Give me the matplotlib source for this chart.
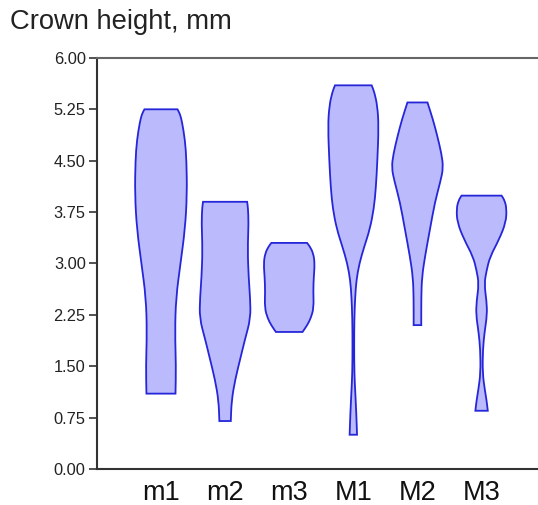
import numpy as np
import matplotlib
matplotlib.use("Agg")
import matplotlib.pyplot as plt
from matplotlib.path import Path
from matplotlib.patches import PathPatch

plt.rcParams['font.family'] = ['Liberation Sans', 'DejaVu Sans']

# groups along the x axis
groups = ['m1', 'm2', 'm3', 'M1', 'M2', 'M3']

# violin outlines: heights (mm) and half widths (px)
m1_y = [1.10, 1.50, 2.00, 2.50, 3.00, 3.50, 4.00, 4.50, 4.80, 5.07, 5.18, 5.25]
m1_w = [14.5, 15.0, 14.0, 15.0, 19.5, 24.0, 26.0, 25.5, 24.0, 21.0, 19.0, 16.5]

m2_y = [0.70, 1.00, 1.30, 1.60, 1.90, 2.20, 2.50, 2.80, 3.20, 3.60, 3.82, 3.90]
m2_w = [5.7, 6.5, 10.0, 15.0, 20.0, 25.5, 25.0, 23.5, 22.5, 23.5, 22.8, 22.0]

m3_y = [2.00, 2.10, 2.20, 2.35, 2.60, 2.80, 3.00, 3.15, 3.25, 3.30]
m3_w = [13.3, 18.0, 21.5, 24.5, 24.0, 24.5, 25.5, 24.0, 20.5, 17.8]

M1_y = [0.50, 0.80, 1.10, 1.40, 1.80, 2.20, 2.50, 2.75, 3.00, 3.25, 3.50,
        3.80, 4.10, 4.50, 5.00, 5.30, 5.50, 5.60]
M1_w = [3.7, 3.0, 2.0, 1.0, 0.8, 1.0, 1.8, 3.0, 6.0, 11.0, 16.5,
        20.5, 22.5, 24.0, 25.3, 24.0, 21.0, 18.3]

M2_y = [2.10, 2.50, 2.80, 3.10, 3.50, 3.90, 4.20, 4.40, 4.60, 4.85, 5.10, 5.35]
M2_w = [3.8, 3.8, 4.5, 7.5, 12.5, 17.5, 23.0, 25.8, 24.0, 20.0, 15.5, 10.0]

M3_y = [0.85, 1.00, 1.15, 1.40, 1.75, 2.00, 2.25, 2.45, 2.70, 2.90, 3.10,
        3.35, 3.60, 3.80, 3.92, 3.99]
M3_w = [6.2, 5.0, 3.3, 1.0, 1.3, 3.0, 5.5, 5.0, 2.7, 5.0, 8.5,
        17.5, 24.3, 25.0, 23.0, 20.0]

profiles = [(m1_y, m1_w), (m2_y, m2_w), (m3_y, m3_w),
            (M1_y, M1_w), (M2_y, M2_w), (M3_y, M3_w)]

yticks = [0.00, 0.75, 1.50, 2.25, 3.00, 3.75, 4.50, 5.25, 6.00]

px_per_unit = 64.0  # horizontal pixels per group step


def side(pts, first_code):
    # smooth side: quadratic curves through the midpoints, ends kept sharp
    mids = (pts[:-1] + pts[1:]) / 2
    verts = [pts[0], mids[0]]
    codes = [first_code, Path.LINETO]
    for k in range(1, len(pts) - 1):
        verts += [pts[k], mids[k]]
        codes += [Path.CURVE3, Path.CURVE3]
    verts.append(pts[-1])
    codes.append(Path.LINETO)
    return verts, codes


def violin_path(pos, ys, ws):
    ys = np.array(ys)
    hw = np.array(ws) / px_per_unit
    left = np.column_stack([pos - hw, ys])
    right = np.column_stack([pos + hw, ys])[::-1]
    v1, c1 = side(left, Path.MOVETO)
    v2, c2 = side(right, Path.LINETO)
    verts = v1 + v2 + [left[0]]
    codes = c1 + c2 + [Path.CLOSEPOLY]
    return Path(verts, codes)


fig = plt.figure(figsize=(5.38, 5.05), dpi=100)
ax = fig.add_axes([0.180, 0.0713, 0.82, 0.814])

for i, (ys, ws) in enumerate(profiles):
    patch = PathPatch(violin_path(i + 1, ys, ws), facecolor='#babafc',
                      edgecolor='#2626d9', lw=1.3, zorder=3)
    ax.add_patch(patch)

ax.set_xlim(0, 6.88)
ax.set_ylim(0, 6)
ax.set_yticks(yticks)
ax.set_yticklabels([f'{t:.2f}' for t in yticks], fontsize=11.8, color='#222222')
ax.set_xticks(range(1, 7))
ax.set_xticklabels(groups, fontsize=19.5, color='#111111')
ax.tick_params(axis='x', length=0, pad=8)
ax.tick_params(axis='y', length=6, width=1.2, pad=2, color='#333333')

for s in ['left', 'bottom']:
    ax.spines[s].set_color('#333333')
    ax.spines[s].set_linewidth(1.5)
ax.spines['top'].set_color('#666666')
ax.spines['top'].set_linewidth(1.5)
ax.spines['right'].set_visible(False)

fig.text(0.018, 0.957, 'Crown height, mm', fontsize=19.7, color='#222222',
         ha='left', va='center')

fig.savefig('out.png', dpi=100)
